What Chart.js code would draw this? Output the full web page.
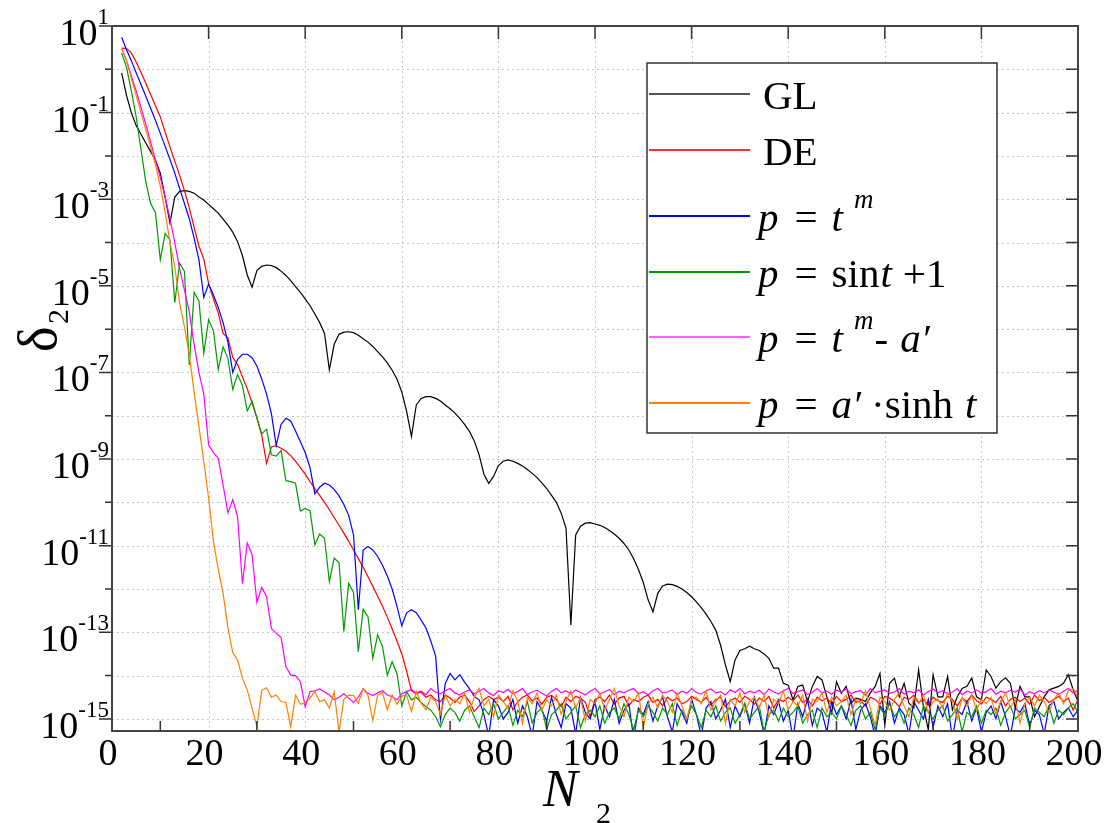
<!DOCTYPE html>
<html lang="en">
<head>
  <meta charset="UTF-8">
  <title>delta_2 versus N_2</title>
  <script src="https://cdn.jsdelivr.net/npm/chart.js"></script>
  <style>
    html, body { margin: 0; padding: 0; background: #fff; }
    canvas { display: block; }
  </style>
</head>
<body>
<canvas id="chart" width="1107" height="823"></canvas>

<script>
// N_2 values (x axis)
const N = [
  2, 3, 4, 5, 6, 7, 8, 9, 10, 11,
  12, 13, 14, 15, 16, 17, 18, 19, 20, 21,
  22, 23, 24, 25, 26, 27, 28, 29, 30, 31,
  32, 33, 34, 35, 36, 37, 38, 39, 40, 41,
  42, 43, 44, 45, 46, 47, 48, 49, 50, 51,
  52, 53, 54, 55, 56, 57, 58, 59, 60, 61,
  62, 63, 64, 65, 66, 67, 68, 69, 70, 71,
  72, 73, 74, 75, 76, 77, 78, 79, 80, 81,
  82, 83, 84, 85, 86, 87, 88, 89, 90, 91,
  92, 93, 94, 95, 96, 97, 98, 99, 100, 101,
  102, 103, 104, 105, 106, 107, 108, 109, 110, 111,
  112, 113, 114, 115, 116, 117, 118, 119, 120, 121,
  122, 123, 124, 125, 126, 127, 128, 129, 130, 131,
  132, 133, 134, 135, 136, 137, 138, 139, 140, 141,
  142, 143, 144, 145, 146, 147, 148, 149, 150, 151,
  152, 153, 154, 155, 156, 157, 158, 159, 160, 161,
  162, 163, 164, 165, 166, 167, 168, 169, 170, 171,
  172, 173, 174, 175, 176, 177, 178, 179, 180, 181,
  182, 183, 184, 185, 186, 187, 188, 189, 190, 191,
  192, 193, 194, 195, 196, 197, 198, 199, 200
];

// delta_2, stored as log10(delta_2)
const GL_LOG = [
  -0.08, -0.6, -1.0, -1.3, -1.5, -1.7, -1.9, -2.1, -2.4, -2.95,
  -3.55, -2.95, -2.82, -2.8, -2.82, -2.86, -2.95, -3.02, -3.12, -3.22,
  -3.32, -3.46, -3.6, -3.76, -3.98, -4.3, -4.75, -5.03, -4.65, -4.55,
  -4.52, -4.53, -4.58, -4.66, -4.76, -4.88, -5.02, -5.15, -5.3, -5.46,
  -5.65, -5.85, -6.1, -6.94, -6.35, -6.12, -6.07, -6.06, -6.08, -6.14,
  -6.22, -6.3, -6.4, -6.52, -6.64, -6.78, -6.95, -7.15, -7.45, -7.9,
  -8.48, -7.75, -7.6, -7.56, -7.56, -7.6, -7.66, -7.75, -7.84, -7.94,
  -8.06, -8.2, -8.36, -8.58, -8.9, -9.35, -9.56, -9.4, -9.15, -9.05,
  -9.02, -9.05, -9.1, -9.16, -9.24, -9.33, -9.43, -9.55, -9.68, -9.84,
  -10.0, -10.25, -10.6, -12.83, -10.75, -10.55, -10.48, -10.47, -10.5, -10.53,
  -10.58, -10.65, -10.73, -10.83, -10.95, -11.1, -11.3, -11.55, -11.85, -12.25,
  -12.53, -12.1, -11.93, -11.89, -11.9, -11.94, -12.0, -12.08, -12.18, -12.3,
  -12.43, -12.58, -12.75, -12.95, -13.3, -13.75, -14.14, -13.64, -13.42, -13.38,
  -13.32, -13.38, -13.42, -13.5, -13.6, -13.83, -13.83, -14.18, -14.22, -14.56,
  -14.25, -14.22, -14.6, -14.25, -14.02, -14.1, -14.49, -14.87, -14.14, -14.41,
  -14.25, -14.64, -14.52, -14.55, -14.6, -14.4, -14.25, -13.95, -15.14, -14.18,
  -14.06, -14.49, -14.18, -14.64, -14.75, -13.87, -14.72, -15.25, -13.98, -14.49,
  -14.49, -14.02, -14.79, -14.49, -14.3, -14.25, -14.06, -14.49, -14.56, -13.87,
  -14.02, -14.29, -14.14, -14.05, -14.18, -14.75, -14.25, -14.49, -14.49, -14.95,
  -14.72, -14.49, -14.33, -14.29, -14.25, -14.18, -13.98, -14.33, -14.6
];

const DE_LOG = [
  0.49, 0.48, 0.38, 0.17, -0.07, -0.32, -0.58, -0.84, -1.1, -1.45,
  -1.79, -2.12, -2.45, -2.8, -3.2, -3.65, -4.08, -4.38, -4.95, -5.3,
  -5.63, -6.1, -6.2, -6.65, -6.82, -7.1, -7.38, -7.7, -8.05, -8.45,
  -9.1, -8.72, -8.69, -8.75, -8.82, -8.92, -9.05, -9.2, -9.35, -9.52,
  -9.68, -9.84, -10.0, -10.17, -10.35, -10.53, -10.71, -10.9, -11.1, -11.3,
  -11.5, -11.72, -11.94, -12.17, -12.4, -12.65, -12.92, -13.2, -13.5, -13.9,
  -14.35, -14.42, -14.38, -14.5, -14.45, -14.56, -14.6, -14.45, -14.52, -14.62,
  -14.5, -14.45, -14.6, -14.83, -14.7, -14.55, -14.48, -14.56, -14.5, -14.6,
  -14.48, -14.79, -14.6, -14.5, -14.45, -14.58, -14.52, -14.66, -14.5, -14.46,
  -14.55, -14.72, -14.5, -14.6, -14.48, -14.52, -14.62, -14.95, -14.55, -14.5,
  -14.6, -14.45, -14.66, -14.52, -14.48, -14.7, -14.55, -14.6, -14.5, -14.45,
  -14.62, -14.55, -14.7, -14.5, -14.58, -14.52, -14.65, -14.6, -14.48, -14.55,
  -14.62, -14.5, -14.68, -14.55, -14.5, -14.72, -14.58, -14.52, -14.62, -14.48,
  -14.55, -14.66, -14.52, -14.6, -14.48, -14.75, -14.55, -14.6, -14.5, -14.58,
  -14.45, -14.62, -14.55, -14.7, -14.5, -14.58, -14.52, -14.66, -14.48, -14.6,
  -14.55, -14.45, -14.62, -14.58, -14.7, -14.5, -14.55, -14.66, -14.48, -14.52,
  -14.6, -14.72, -14.5, -14.55, -14.45, -14.62, -14.56, -14.68, -14.5, -14.58,
  -14.62, -14.48, -14.55, -14.7, -14.52, -14.6, -14.45, -14.58, -14.66, -14.5,
  -14.55, -14.62, -14.48, -14.7, -14.55, -14.5, -14.6, -14.52, -14.66, -14.45,
  -14.58, -14.5, -14.62, -14.55, -14.48, -14.6, -14.52, -14.8, -14.55
];

const TM_LOG = [
  0.74, 0.45, 0.2, -0.08, -0.35, -0.62, -0.9, -1.18, -1.48, -1.78,
  -2.08, -2.4, -2.75, -3.1, -3.45, -3.9, -4.4, -5.27, -4.96, -5.21,
  -5.5, -5.85, -6.3, -7.0, -6.7, -6.58, -6.58, -6.66, -6.85, -7.15,
  -7.5, -7.95, -8.69, -8.2, -8.06, -8.12, -8.35, -8.6, -8.85, -9.2,
  -9.8, -9.65, -9.56, -9.6, -9.7, -9.85, -10.05, -10.3, -10.75, -12.48,
  -11.1, -11.02, -11.1, -11.25, -11.45, -11.7, -12.0, -12.4, -12.85, -12.55,
  -12.48, -12.55, -12.72, -12.9, -13.2, -13.55, -15.02, -14.18, -13.95, -14.1,
  -13.98, -14.15, -14.3, -14.48, -14.56, -14.9, -15.4, -14.56, -14.7, -15.0,
  -14.85, -14.55, -15.1, -14.7, -14.95, -15.4, -14.6, -14.8, -15.05, -14.5,
  -14.9, -15.2, -14.65, -14.75, -15.35, -14.5, -14.85, -15.0, -14.6, -15.25,
  -14.7, -14.95, -14.55, -15.1, -14.8, -14.65, -15.45, -14.75, -14.9, -14.6,
  -15.05, -14.7, -14.5, -14.95, -15.3, -14.65, -14.85, -15.1, -14.55, -14.9,
  -15.4, -14.75, -14.6, -15.0, -14.8, -14.55, -15.2, -14.7, -14.95, -14.65,
  -15.1, -14.5, -14.85, -15.35, -14.7, -14.9, -14.6, -15.05, -14.8, -15.45,
  -14.65, -14.95, -14.55, -15.15, -14.75, -14.85, -15.3, -14.6, -14.9, -14.7,
  -15.0, -14.55, -15.25, -14.8, -14.65, -14.95, -15.4, -14.7, -14.85, -14.6,
  -15.1, -14.75, -14.9, -15.35, -14.6, -14.8, -15.0, -14.55, -15.2, -14.7,
  -14.95, -14.65, -15.45, -14.8, -14.9, -14.6, -15.05, -14.75, -15.3, -14.85,
  -14.7, -15.0, -14.6, -14.95, -15.4, -14.75, -14.85, -14.65, -15.15, -14.8,
  -14.9, -15.35, -14.7, -14.6, -15.0, -14.85, -14.75, -14.95, -14.8
];

const SIN_LOG = [
  0.37, 0.05, -0.5, -1.1, -1.85, -2.6, -3.1, -3.31, -4.4, -3.79,
  -3.94, -5.39, -4.48, -4.67, -6.83, -5.15, -5.35, -6.56, -5.78, -6.04,
  -6.93, -6.41, -6.68, -7.39, -7.05, -7.3, -7.89, -7.67, -8.05, -8.42,
  -8.31, -8.9, -8.93, -8.8, -9.5, -9.52, -9.56, -10.2, -10.14, -10.19,
  -10.98, -10.73, -10.83, -11.83, -11.29, -11.39, -12.98, -11.87, -12.08, -13.45,
  -12.47, -12.64, -13.6, -13.06, -13.33, -13.99, -13.68, -13.95, -14.7, -14.37,
  -14.56, -14.5, -14.62, -14.72, -14.8, -14.95, -15.18, -14.9, -14.75, -14.85,
  -15.05, -14.8, -14.7, -14.95, -15.2, -14.75, -14.9, -14.65, -15.0, -14.85,
  -14.7, -15.15, -14.8, -14.95, -14.6, -15.1, -14.85, -14.75, -15.25, -14.9,
  -14.8, -14.65, -15.0, -14.85, -14.7, -15.2, -14.9, -14.8, -14.95, -14.7,
  -15.1, -14.85, -14.75, -15.0, -14.65, -14.9, -15.25, -14.8, -14.95, -14.7,
  -14.85, -15.05, -14.75, -14.9, -14.65, -15.15, -14.8, -15.0, -14.7, -14.9,
  -15.2, -14.8, -14.95, -14.7, -15.05, -14.85, -14.75, -15.1, -14.9, -14.65,
  -15.0, -14.85, -14.7, -15.3, -14.9, -14.8, -15.05, -14.75, -14.95, -14.85,
  -14.7, -15.1, -14.9, -14.8, -15.2, -14.75, -14.95, -14.85, -15.0, -14.7,
  -14.9, -15.15, -14.8, -14.7, -15.0, -14.85, -15.25, -14.75, -14.9, -14.65,
  -14.95, -14.8, -15.1, -14.75, -14.9, -15.2, -14.7, -14.85, -15.0, -14.8,
  -14.7, -15.05, -14.9, -14.75, -15.3, -14.85, -14.95, -14.7, -15.1, -14.8,
  -14.9, -14.75, -15.15, -14.85, -14.7, -15.0, -14.9, -14.8, -15.2, -14.75,
  -14.85, -14.95, -14.7, -15.1, -14.8, -14.9, -14.75, -14.65, -14.85
];

const TMA_LOG = [
  0.48, 0.2, -0.15, -0.5, -0.88, -1.27, -1.68, -2.1, -2.5, -2.95,
  -3.45, -4.0, -4.6, -5.1, -5.6, -6.35, -7.0, -7.5, -8.67, -8.85,
  -8.98, -9.6, -10.24, -9.94, -10.33, -11.88, -10.94, -11.21, -12.31, -11.96,
  -12.18, -12.91, -13.02, -13.12, -13.79, -13.99, -14.0, -14.14, -14.72, -14.37,
  -14.35, -14.31, -14.38, -14.45, -14.56, -14.5, -14.42, -14.52, -14.62, -14.5,
  -14.31, -14.41, -14.46, -14.4, -14.35, -14.45, -14.49, -14.56, -14.42, -14.37,
  -14.32, -14.4, -14.36, -14.44, -14.3, -14.38, -14.42, -14.35, -14.3, -14.4,
  -14.45, -14.38, -14.33, -14.42, -14.36, -14.3, -14.4, -14.46, -14.35, -14.39,
  -14.32, -14.42, -14.37, -14.3, -14.44, -14.38, -14.34, -14.41, -14.47, -14.36,
  -14.3, -14.4, -14.35, -14.43, -14.33, -14.39, -14.45, -14.36, -14.3, -14.42,
  -14.38, -14.32, -14.44, -14.36, -14.4, -14.34, -14.3, -14.42, -14.37, -14.45,
  -14.35, -14.3, -14.4, -14.38, -14.33, -14.44, -14.36, -14.41, -14.3, -14.39,
  -14.43, -14.35, -14.31, -14.4, -14.37, -14.45, -14.33, -14.39, -14.3, -14.42,
  -14.36, -14.4, -14.34, -14.44, -14.31, -14.38, -14.42, -14.35, -14.3, -14.41,
  -14.37, -14.33, -14.44, -14.39, -14.3, -14.4, -14.36, -14.43, -14.34, -14.38,
  -14.31, -14.42, -14.37, -14.35, -14.45, -14.3, -14.4, -14.36, -14.33, -14.41,
  -14.38, -14.3, -14.43, -14.36, -14.4, -14.33, -14.45, -14.37, -14.31, -14.4,
  -14.35, -14.42, -14.38, -14.3, -14.44, -14.36, -14.4, -14.33, -14.41, -14.37,
  -14.3, -14.43, -14.36, -14.4, -14.34, -14.38, -14.31, -14.45, -14.37, -14.42,
  -14.35, -14.4, -14.33, -14.38, -14.44, -14.36, -14.3, -14.4, -14.34
];

const SINH_LOG = [
  0.49, 0.2, -0.2, -0.6, -1.0, -1.4, -1.8, -2.2, -2.7, -3.3,
  -4.0, -4.55, -5.4, -5.95, -6.6, -7.45, -8.25, -9.05, -9.9, -10.9,
  -11.55, -12.1, -12.9, -13.47, -13.64, -14.06, -14.33, -14.75, -15.17, -14.34,
  -14.28, -14.5, -14.45, -14.6, -14.62, -15.18, -14.45, -14.66, -14.64, -14.52,
  -14.37, -14.6, -14.56, -14.75, -14.38, -15.3, -14.55, -14.45, -14.46, -14.64,
  -14.3, -14.46, -15.04, -14.45, -14.4, -14.79, -14.45, -14.66, -14.47, -14.45,
  -14.83, -14.37, -14.64, -14.79, -14.5, -14.6, -14.9, -14.45, -14.7, -14.55,
  -14.65, -14.4, -14.85, -14.5, -14.3, -14.7, -14.55, -14.95, -14.45, -14.6,
  -14.75, -14.35, -14.6, -15.1, -14.5, -14.65, -14.4, -14.8, -14.55, -14.7,
  -14.45, -14.9, -14.6, -14.35, -14.75, -14.5, -15.05, -14.55, -14.65, -14.4,
  -14.8, -14.55, -14.3, -14.7, -14.95, -14.5, -14.6, -14.4, -15.2, -14.65,
  -14.5, -14.75, -14.45, -14.6, -14.85, -14.4, -14.7, -15.0, -14.55, -14.5,
  -14.65, -14.35, -14.8, -14.6, -14.45, -15.1, -14.55, -14.7, -14.4, -14.85,
  -14.6, -14.5, -14.75, -14.45, -14.95, -14.55, -14.65, -14.35, -14.8, -14.6,
  -14.7, -14.45, -15.05, -14.55, -14.6, -14.4, -14.85, -14.5, -14.7, -14.6,
  -14.45, -14.9, -14.55, -14.65, -14.35, -14.75, -15.15, -14.5, -14.6, -14.8,
  -14.55, -14.4, -14.7, -14.95, -14.5, -14.65, -14.45, -14.85, -14.6, -14.55,
  -14.75, -14.4, -14.6, -15.0, -14.5, -14.7, -14.45, -14.8, -14.55, -14.65,
  -14.5, -14.9, -14.6, -14.4, -14.75, -14.55, -15.1, -14.65, -14.5, -14.7,
  -14.45, -14.6, -14.85, -14.55, -14.4, -14.65, -14.35, -14.3, -14.5
];

// axis ticks
const X_LABELS = [0, 20, 40, 60, 80, 100, 120, 140, 160, 180, 200];
const X_GRID = [20, 40, 60, 80, 100, 120, 140, 160, 180];
const X_MINOR = [10, 30, 50, 70, 90, 110, 130, 150, 170, 190];
const Y_EXP = [1, 0, -1, -2, -3, -4, -5, -6, -7, -8, -9, -10, -11, -12, -13, -14, -15];
const Y_LABEL_EXP = ['1', '-1', '-3', '-5', '-7', '-9', '-11', '-13', '-15'];

// legend text, pieces: [text, style, gap before]
// style: r = roman, i = italic, s = italic superscript
const LEGEND_TEXT = [
  [['GL', 'r', 5]],
  [['DE', 'r', 5]],
  [['p', 'i', 0], ['=', 'r', 16], ['t', 'i', 14], ['m', 's', 11]],
  [['p', 'i', 0], ['=', 'r', 16], ['sin', 'r', 14], ['t', 'i', 1], ['+1', 'r', 11]],
  [['p', 'i', 0], ['=', 'r', 16], ['t', 'i', 14], ['m', 's', 11], ['-', 'r', 1], ['a\u2032', 'i', 12]],
  [['p', 'i', 0], ['=', 'r', 16], ['a\u2032', 'i', 14], ['\u00b7', 'r', 10], ['sinh', 'r', 0], ['t', 'i', 12]]
];

const COLORS = ['#000000', '#ff0000', '#0000ff', '#009a00', '#ff00ff', '#ff8000'];
const LEGEND_COLORS = ['#555555', '#ff3030', '#0000ff', '#009a00', '#ff60ff', '#ff8000'];
const SERIES = [GL_LOG, DE_LOG, TM_LOG, SIN_LOG, TMA_LOG, SINH_LOG];
const NAMES = ['GL', 'DE', 'p = t^m', 'p = sin t + 1', "p = t^m - a'", "p = a' sinh t"];

const SERIF = '"Liberation Serif", "Times New Roman", serif';

const drawPlot = {
  id: 'drawPlot',
  beforeDatasetsDraw(chart) {
    const { ctx, chartArea: a, scales: { x, y } } = chart;
    ctx.save();
    ctx.strokeStyle = '#c8c8c8';
    ctx.lineWidth = 1;
    ctx.setLineDash([2, 3]);
    ctx.beginPath();
    X_GRID.forEach(v => {
      const px = Math.round(x.getPixelForValue(v)) + 0.5;
      ctx.moveTo(px, a.top);
      ctx.lineTo(px, a.bottom);
    });
    Y_EXP.slice(1).forEach(e => {
      const py = Math.round(y.getPixelForValue(Math.pow(10, e))) + 0.5;
      ctx.moveTo(a.left, py);
      ctx.lineTo(a.right, py);
    });
    ctx.stroke();
    ctx.restore();
  },
  afterDraw(chart) {
    const { ctx, chartArea: a, scales: { x, y } } = chart;
    ctx.save();

    // ticks
    ctx.strokeStyle = '#333';
    ctx.lineWidth = 1.5;
    ctx.beginPath();
    Y_EXP.forEach(e => {
      const py = y.getPixelForValue(Math.pow(10, e));
      const len = (e % 2 !== 0) ? 13 : 7;
      ctx.moveTo(a.left - len, py); ctx.lineTo(a.left, py);
      ctx.moveTo(a.right - 12, py); ctx.lineTo(a.right, py);
    });
    X_GRID.forEach(v => {
      const px = x.getPixelForValue(v);
      ctx.moveTo(px, a.top); ctx.lineTo(px, a.top + 13);
    });
    X_MINOR.forEach(v => {
      const px = x.getPixelForValue(v);
      ctx.moveTo(px, a.bottom); ctx.lineTo(px, a.bottom - 10);
    });
    ctx.stroke();

    // frame
    ctx.strokeStyle = '#444';
    ctx.lineWidth = 2;
    ctx.strokeRect(a.left, a.top, a.right - a.left, a.bottom - a.top);

    // x tick labels
    ctx.fillStyle = '#000';
    ctx.font = '38px ' + SERIF;
    ctx.textAlign = 'center';
    ctx.textBaseline = 'alphabetic';
    X_LABELS.forEach(v => {
      ctx.fillText(String(v), x.getPixelForValue(v) - 4, a.bottom + 34);
    });

    // y tick labels 10^k
    ctx.textAlign = 'left';
    Y_LABEL_EXP.forEach(s => {
      const py = y.getPixelForValue(Math.pow(10, Number(s)));
      ctx.font = '23px ' + SERIF;
      const ew = ctx.measureText(s).width;
      const ex = a.left - 3 - ew;
      ctx.fillText(s, ex, py - 2);
      ctx.font = '38px ' + SERIF;
      const bw = ctx.measureText('10').width;
      ctx.fillText('10', ex - bw, py + 19);
    });

    // axis titles
    ctx.font = 'italic 52px ' + SERIF;
    ctx.fillText('N', 543, 806);
    ctx.font = '30px ' + SERIF;
    ctx.fillText('2', 596, 823);

    ctx.save();
    ctx.translate(56, 352);
    ctx.rotate(-Math.PI / 2);
    ctx.font = '54px ' + SERIF;
    ctx.fillText('\u03b4', 0, 0);
    ctx.font = '30px ' + SERIF;
    ctx.fillText('2', 28, 12);
    ctx.restore();

    // legend
    const box = { l: 647, t: 63, r: 997, b: 433 };
    ctx.fillStyle = '#fff';
    ctx.fillRect(box.l, box.t, box.r - box.l, box.b - box.t);
    ctx.strokeStyle = '#333';
    ctx.lineWidth = 1.5;
    ctx.strokeRect(box.l, box.t, box.r - box.l, box.b - box.t);
    const rowY = [94, 150, 216, 272, 337, 403];
    LEGEND_TEXT.forEach((pieces, i) => {
      const ly = rowY[i];
      ctx.strokeStyle = LEGEND_COLORS[i];
      ctx.lineWidth = 2;
      ctx.beginPath();
      ctx.moveTo(box.l + 2, ly);
      ctx.lineTo(box.l + 103, ly);
      ctx.stroke();
      ctx.fillStyle = '#000';
      let cx = 758;
      pieces.forEach(([txt, style, gap]) => {
        cx += gap;
        let base = ly + 15;
        if (style === 'r') ctx.font = '41px ' + SERIF;
        else if (style === 'i') ctx.font = 'italic 41px ' + SERIF;
        else { ctx.font = 'italic 27px ' + SERIF; base -= 23; }
        ctx.fillText(txt, cx, base);
        cx += ctx.measureText(txt).width;
      });
    });

    ctx.restore();
  }
};

const datasets = SERIES.map((s, i) => ({
  label: NAMES[i],
  data: s.map(e => Math.pow(10, e)),
  borderColor: COLORS[i],
  backgroundColor: COLORS[i],
  borderWidth: 1.2,
  pointRadius: 0,
  fill: false,
  tension: 0,
  order: SERIES.length - i
}));

new Chart(document.getElementById('chart'), {
  type: 'line',
  data: { labels: N, datasets },
  options: {
    responsive: false,
    animation: false,
    layout: { padding: { left: 0, right: 29, top: 26, bottom: 0 } },
    plugins: { legend: { display: false }, tooltip: { enabled: false } },
    scales: {
      x: {
        type: 'linear',
        min: 0,
        max: 200,
        ticks: { display: false },
        grid: { display: false },
        border: { display: false },
        afterFit: s => { s.height = 92; }
      },
      y: {
        type: 'logarithmic',
        min: 5.25e-16,
        max: 10,
        ticks: { display: false },
        grid: { display: false },
        border: { display: false },
        afterFit: s => { s.width = 112; }
      }
    }
  },
  plugins: [drawPlot]
});
</script>
</body>
</html>
